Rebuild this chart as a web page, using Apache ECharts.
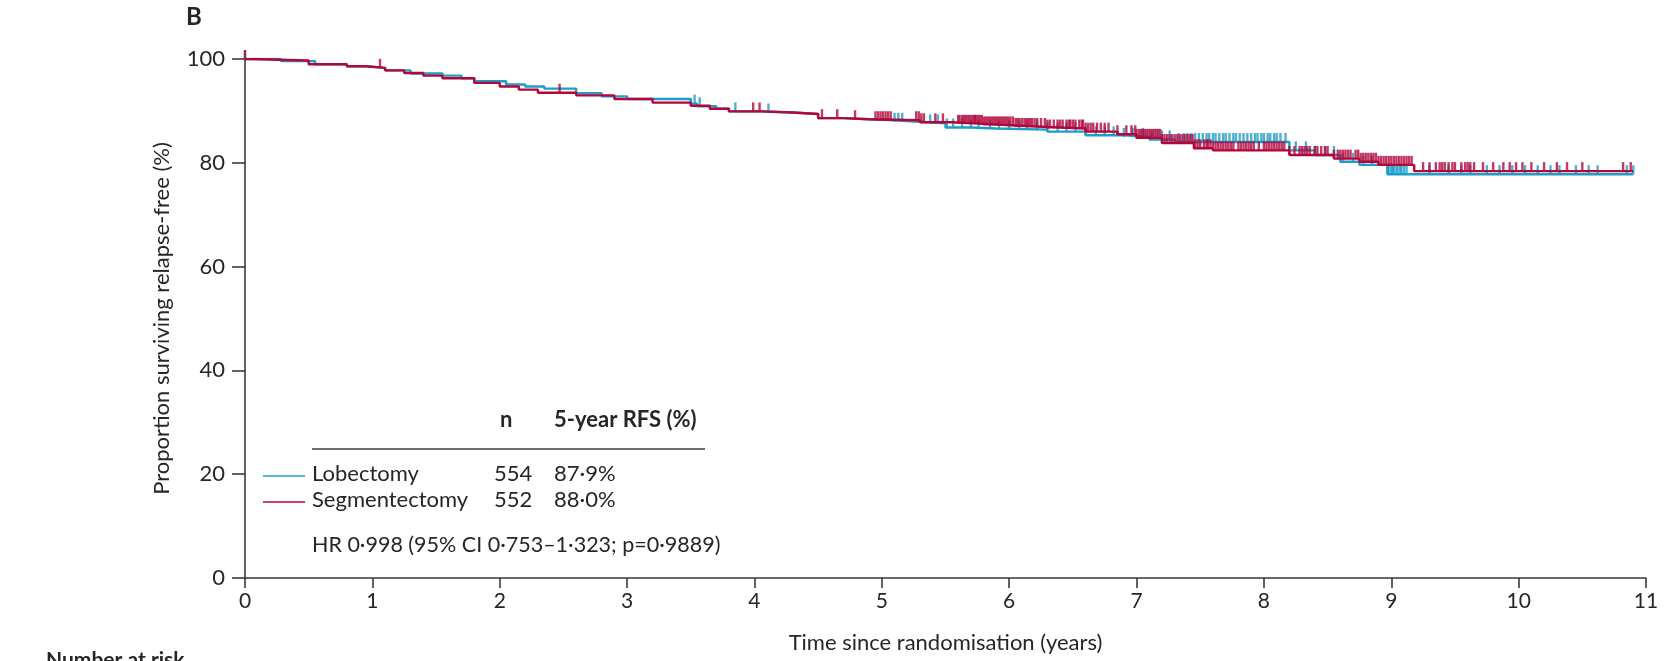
<!DOCTYPE html>
<html>
<head>
<meta charset="utf-8">
<title>Relapse-free survival</title>
<script src="https://cdn.jsdelivr.net/npm/echarts@6/dist/echarts.min.js"></script>
<style>
  html, body { margin: 0; padding: 0; background: #fff; }
  #chart { width: 1676px; height: 661px; }
</style>
</head>
<body>
<div id="chart"></div>
<script>
// Kaplan-Meier steps: time (years) and % relapse-free from that time on
var lobTime = [0, 0.28, 0.55, 0.8, 0.95, 1.1, 1.3, 1.55, 1.7, 1.8, 2.05, 2.2, 2.35, 2.6, 2.8, 3.0, 3.5, 3.55, 3.7, 3.8, 4.05, 4.3, 4.5, 4.7, 4.9, 5.1, 5.3, 5.5, 5.7, 5.9, 6.3, 6.6, 6.9, 7.1, 7.3, 8.2, 8.4, 8.6, 8.75, 8.97, 10.9];
var lobSurv = [100, 99.6, 99.0, 98.6, 98.3, 97.8, 97.2, 96.8, 96.3, 95.7, 95.1, 94.7, 94.3, 93.4, 92.8, 92.3, 91.4, 90.9, 90.4, 89.9, 89.7, 89.4, 88.6, 88.4, 88.2, 87.9, 87.6, 86.8, 86.6, 86.4, 86.0, 85.3, 85.0, 84.5, 84.0, 82.4, 81.5, 80.2, 79.6, 77.8, 77.8];

var segTime = [0, 0.05, 0.5, 0.8, 0.95, 1.1, 1.25, 1.4, 1.55, 1.8, 2.0, 2.15, 2.3, 2.6, 2.9, 3.2, 3.5, 3.65, 3.8, 4.05, 4.3, 4.5, 4.7, 4.9, 5.3, 5.55, 5.8, 6.05, 6.3, 6.6, 6.85, 7.0, 7.2, 7.45, 7.6, 8.2, 8.55, 8.75, 8.9, 9.18, 10.9];
var segSurv = [100, 99.7, 99.0, 98.6, 98.3, 97.8, 97.3, 96.8, 96.3, 95.4, 94.7, 94.1, 93.5, 93.0, 92.3, 91.6, 91.0, 90.4, 89.9, 89.7, 89.4, 88.6, 88.4, 88.2, 87.8, 87.5, 87.2, 86.9, 86.6, 86.0, 85.5, 84.8, 83.8, 82.8, 82.4, 81.5, 80.8, 80.2, 79.6, 78.4, 78.4];

// censored observations (years)
var lobCensor = [0.0, 3.53, 3.57, 3.85, 4.11, 5.1, 5.13, 5.16, 5.38, 5.44, 5.51, 5.56, 5.63, 5.7, 5.76, 5.85, 5.92, 6.0, 6.08, 6.14, 6.22, 6.3, 6.38, 6.45, 6.52, 6.6, 6.68, 6.75, 6.82, 6.9, 6.97, 7.05, 7.12, 7.2, 7.26, 7.33, 7.37, 7.4, 7.43, 7.46, 7.49, 7.52, 7.55, 7.57, 7.6, 7.62, 7.65, 7.68, 7.7, 7.73, 7.76, 7.78, 7.81, 7.84, 7.87, 7.9, 7.93, 7.95, 7.98, 8.0, 8.03, 8.05, 8.08, 8.1, 8.13, 8.17, 8.25, 8.33, 8.4, 8.48, 8.55, 8.62, 8.7, 8.78, 8.85, 8.97, 8.98, 9.0, 9.01, 9.02, 9.04, 9.05, 9.07, 9.08, 9.1, 9.12, 9.3, 9.45, 9.55, 9.62, 9.75, 9.85, 9.95, 10.05, 10.15, 10.25, 10.32, 10.45, 10.55, 10.62, 10.85, 10.9];
var segCensor = [0.0, 1.06, 2.47, 3.99, 4.04, 4.53, 4.65, 4.79, 4.95, 4.97, 4.99, 5.01, 5.03, 5.05, 5.07, 5.27, 5.29, 5.31, 5.33, 5.42, 5.48,
  5.6, 5.61, 5.63, 5.645, 5.66, 5.675, 5.69, 5.705, 5.72, 5.73, 5.74, 5.755, 5.77, 5.785, 5.8, 5.815, 5.83, 5.845, 5.86, 5.875, 5.89, 5.905, 5.92, 5.935, 5.95, 5.965, 5.98, 5.995,
  6.01, 6.03, 6.05, 6.065, 6.08, 6.1, 6.12, 6.135, 6.15, 6.165, 6.18, 6.2, 6.22, 6.25, 6.28, 6.3, 6.32, 6.35, 6.38, 6.4, 6.42, 6.45, 6.47, 6.48, 6.5, 6.52, 6.55, 6.57, 6.58, 6.6, 6.62, 6.64, 6.66, 6.69, 6.72, 6.75, 6.78, 6.85, 6.92, 6.96, 6.99,
  7.0, 7.02, 7.035, 7.05, 7.065, 7.08, 7.095, 7.11, 7.125, 7.14, 7.155, 7.17, 7.185, 7.2, 7.22, 7.24, 7.26, 7.28, 7.3, 7.32, 7.34, 7.36, 7.38, 7.4, 7.42, 7.44, 7.46, 7.48, 7.5, 7.53, 7.55, 7.56, 7.58, 7.6, 7.62, 7.64, 7.66, 7.68, 7.7, 7.72, 7.74, 7.76, 7.8, 7.82, 7.84, 7.86, 7.88, 7.9, 7.92, 7.96,
  8.0, 8.02, 8.04, 8.06, 8.08, 8.1, 8.12, 8.14, 8.16, 8.2, 8.24, 8.28, 8.3, 8.32, 8.34, 8.36, 8.4, 8.42, 8.45, 8.48, 8.5, 8.55, 8.58, 8.6, 8.62, 8.64, 8.66, 8.68, 8.72, 8.74, 8.76, 8.78, 8.8, 8.82, 8.84, 8.86, 8.88, 8.9, 8.92, 8.94, 8.96, 8.98,
  9.0, 9.02, 9.04, 9.06, 9.08, 9.1, 9.12, 9.14, 9.16, 9.25, 9.3, 9.35, 9.38, 9.4, 9.42, 9.45, 9.48, 9.5, 9.55, 9.58, 9.6, 9.62, 9.65, 9.72, 9.8, 9.88, 9.93, 9.98,
  10.03, 10.1, 10.2, 10.3, 10.38, 10.5, 10.82, 10.88];

var xTicks = [0, 1, 2, 3, 4, 5, 6, 7, 8, 9, 10, 11];
var yTicks = [0, 20, 40, 60, 80, 100];

var groups = ['Lobectomy', 'Segmentectomy'];
var groupN = [554, 552];
var groupRfs = ['87·9%', '88·0%'];
var hrText = 'HR 0·998 (95% CI 0·753–1·323; p=0·9889)';

var blue = '#1d9dc8', red = '#b3063b', ink = '#3a3a3a', txt = '#262626';
var fontReg = 'Lato, "Liberation Sans", sans-serif';

window.onload = function() {
  var chart = echarts.init(document.getElementById('chart'));

  function pairs(ts, ss) {
    return ts.map(function(t, i) { return [t, ss[i]]; });
  }
  // value of the step curve at time t
  function survAt(ts, ss, t) {
    var v = ss[0];
    for (var i = 0; i < ts.length; i++) {
      if (ts[i] <= t) v = ss[i];
    }
    return v;
  }
  function censorPts(cs, ts, ss) {
    return cs.map(function(t) { return [t, survAt(ts, ss, t)]; });
  }

  var tick = {
    type: 'scatter',
    symbol: 'rect',
    symbolSize: [2.4, 9],
    symbolOffset: [0, -4.5],
    silent: true,
    z: 3
  };

  // legend table drawn as graphic
  var gfx = [
    { type: 'text', left: 186, top: 5, style: { text: 'B', font: 'bold 24px ' + fontReg, fill: txt } },
    { type: 'text', left: 46, top: 650, style: { text: 'Number at risk', font: 'bold 21px ' + fontReg, fill: txt } },
    { type: 'text', left: 500, top: 409, style: { text: 'n', font: 'bold 22px ' + fontReg, fill: txt } },
    { type: 'text', left: 554, top: 409, style: { text: '5-year RFS (%)', font: 'bold 22px ' + fontReg, fill: txt } },
    { type: 'line', shape: { x1: 312, y1: 449, x2: 705, y2: 449 }, style: { stroke: ink, lineWidth: 1.6 } },
    { type: 'text', left: 312, top: 534, style: { text: hrText, font: '21.5px ' + fontReg, fill: txt } }
  ];
  var colors = [blue, red];
  groups.forEach(function(g, i) {
    var cy = 476 + i * 26;
    gfx.push({ type: 'line', shape: { x1: 263, y1: cy, x2: 305, y2: cy }, style: { stroke: colors[i], lineWidth: 1.6 } });
    gfx.push({ type: 'text', left: 312, top: cy - 13, style: { text: g, font: '22px ' + fontReg, fill: txt } });
    gfx.push({ type: 'text', left: 494, top: cy - 13, style: { text: String(groupN[i]), font: '22px ' + fontReg, fill: txt } });
    gfx.push({ type: 'text', left: 554, top: cy - 13, style: { text: groupRfs[i], font: '22px ' + fontReg, fill: txt } });
  });

  var option = {
    animation: false,
    backgroundColor: '#fff',
    textStyle: { fontFamily: fontReg },
    grid: { left: 245, right: 30, top: 59, bottom: 83 },
    xAxis: {
      type: 'value',
      min: xTicks[0], max: xTicks[xTicks.length - 1], interval: 1,
      name: 'Time since randomisation (years)',
      nameLocation: 'middle', nameGap: 54,
      nameTextStyle: { fontSize: 22, color: txt, fontFamily: fontReg },
      axisLine: { lineStyle: { color: ink, width: 1.6 } },
      axisTick: { length: 10, lineStyle: { color: ink, width: 1.6 } },
      axisLabel: { fontSize: 21, color: txt, margin: 13 },
      splitLine: { show: false }
    },
    yAxis: {
      type: 'value',
      min: yTicks[0], max: yTicks[yTicks.length - 1], interval: 20,
      name: 'Proportion surviving relapse-free (%)',
      nameLocation: 'middle', nameGap: 72,
      nameTextStyle: { fontSize: 22, color: txt, fontFamily: fontReg },
      axisLine: { show: true, lineStyle: { color: ink, width: 1.6 } },
      axisTick: { show: true, length: 13, lineStyle: { color: ink, width: 1.6 } },
      axisLabel: { fontSize: 22, color: txt, margin: 20 },
      splitLine: { show: false }
    },
    series: [
      { name: groups[0], type: 'line', step: 'end', showSymbol: false, data: pairs(lobTime, lobSurv),
        lineStyle: { color: blue, width: 2.4 }, z: 2 },
      Object.assign({ name: groups[0] + ' censored', data: censorPts(lobCensor, lobTime, lobSurv),
        itemStyle: { color: blue } }, tick),
      { name: groups[1], type: 'line', step: 'end', showSymbol: false, data: pairs(segTime, segSurv),
        lineStyle: { color: red, width: 2.4 }, z: 4 },
      Object.assign({ name: groups[1] + ' censored', data: censorPts(segCensor, segTime, segSurv),
        itemStyle: { color: red } }, tick, { z: 5 })
    ],
    graphic: gfx
  };
  chart.setOption(option);
};
</script>
</body>
</html>
